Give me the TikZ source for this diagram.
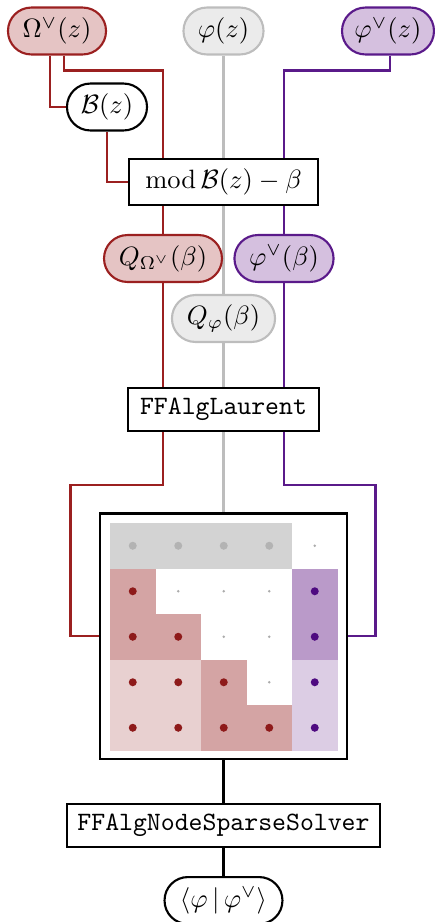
\documentclass[tikz,border=0pt]{standalone}
\usepackage{amsmath}
\usetikzlibrary{calc,backgrounds}

\definecolor{redline}{HTML}{9B2020}
\definecolor{redfill}{HTML}{E5C4C4}
\definecolor{purpleline}{HTML}{5A1A8A}
\definecolor{purplefill}{HTML}{D5C0DF}
\definecolor{grayline}{HTML}{BDBDBD}
\definecolor{grayfill}{HTML}{EBEBEB}
\definecolor{cellgray}{HTML}{D3D3D3}
\definecolor{dotgray}{HTML}{B3B3B3}
\definecolor{smalldot}{HTML}{ABABAB}
\definecolor{cellred}{HTML}{D4A4A4}
\definecolor{cellredlight}{HTML}{E8D0D0}
\definecolor{dotred}{HTML}{8E1A1A}
\definecolor{cellpurple}{HTML}{BA9AC9}
\definecolor{cellpurplelight}{HTML}{DCCDE4}
\definecolor{dotpurple}{HTML}{4E0A80}

\tikzset{
  pill/.style={draw, rounded corners=8.8pt, minimum height=17.7pt, inner sep=0pt, line width=0.8pt},
  redpill/.style={pill, draw=redline, fill=redfill},
  graypill/.style={pill, draw=grayline, fill=grayfill},
  purplepill/.style={pill, draw=purpleline, fill=purplefill},
  whitepill/.style={pill, draw=black, fill=white},
  opbox/.style={draw, fill=white, line width=0.8pt, inner sep=0pt},
  wire/.style={line width=0.85pt},
  redwire/.style={wire, draw=redline},
  purplewire/.style={wire, draw=purpleline},
  graywire/.style={wire, draw=grayline},
  blackwire/.style={wire, draw=black},
  bigdot/.style={radius=4},
  tinydot/.style={radius=1.4},
}

\begin{document}
\begin{tikzpicture}[x=0.3774pt, y=-0.3774pt]
\useasboundingbox (0,0) rectangle (434,922);

% inputs
\node[redpill, minimum width=37pt] (om) at (57,31) {$\Omega^\vee(z)$};
\node[graypill, minimum width=30.2pt] (phz) at (223.5,31) {$\varphi(z)$};
\node[purplepill, minimum width=34.7pt] (phv) at (388,31) {$\varphi^\vee(z)$};
\node[whitepill, minimum width=30.2pt] (bz) at (107,107) {$\mathcal{B}(z)$};

% reduction step
\node[opbox, minimum width=71.3pt, minimum height=17.4pt] (mod) at (223.5,182) {$\operatorname{mod}\mathcal{B}(z)-\beta$};

% reduced quantities
\node[redpill, minimum width=44.5pt] (qom) at (163,258.5) {$Q_{\Omega^\vee}(\beta)$};
\node[purplepill, minimum width=37.4pt] (pvb) at (284,258.5) {$\varphi^\vee(\beta)$};
\node[graypill, minimum width=38.9pt] (qph) at (223.5,318.5) {$Q_\varphi(\beta)$};

\node[opbox, minimum width=72pt, minimum height=16.2pt] (ffl) at (223.5,409.5) {\texttt{FFAlgLaurent}};

% linear system
\node[draw, fill=white, line width=1.1pt, minimum width=93.2pt, minimum height=92.8pt, inner sep=0pt] (mat) at (223.5,636) {};

\fill[cellgray] (110,523) rectangle (292,568.5);
\fill[cellred] (110,568.5) rectangle (155.5,614);
\fill[cellred] (110,614) rectangle (201,659.5);
\fill[cellred] (201,659.5) rectangle (246.5,705);
\fill[cellred] (201,705) rectangle (292,750.5);
\fill[cellredlight] (110,659.5) rectangle (201,750.5);
\fill[cellpurple] (292,568.5) rectangle (337.5,659.5);
\fill[cellpurplelight] (292,659.5) rectangle (337.5,750.5);

% entries: gray row
\foreach \x in {132.75,178.25,223.75,269.25}
  \fill[dotgray] (\x,545.75) circle[bigdot];
\fill[smalldot] (314.75,545.75) circle[tinydot];
% red block
\foreach \x/\y in {132.75/591.25, 132.75/636.75, 178.25/636.75,
                   132.75/682.25, 178.25/682.25, 223.75/682.25,
                   132.75/727.75, 178.25/727.75, 223.75/727.75, 269.25/727.75}
  \fill[dotred] (\x,\y) circle[bigdot];
% purple column
\foreach \y in {591.25,636.75,682.25,727.75}
  \fill[dotpurple] (314.75,\y) circle[bigdot];
% empty entries
\foreach \x/\y in {178.25/591.25, 223.75/591.25, 269.25/591.25,
                   223.75/636.75, 269.25/636.75, 269.25/682.25}
  \fill[smalldot] (\x,\y) circle[tinydot];

\node[opbox, minimum width=118pt, minimum height=16.2pt] (sol) at (223.5,825.5) {\texttt{FFAlgNodeSparseSolver}};
\node[whitepill, minimum width=44.5pt] (res) at (223.5,900.5) {$\langle\varphi\,|\,\varphi^\vee\rangle$};

\begin{scope}[on background layer]
  % gray thread
  \draw[graywire] (phz.south) -- (mat.north);
  % red threads
  \draw[redwire] ($(om.south)+(-7,0)$) |- (bz.west);
  \draw[redwire] ($(om.south)+(7,0)$) -- ++(0,15) -| (qom.north);
  \draw[redwire] (bz.south) |- (mod.west);
  \draw[redwire] (qom.south) -- (qom.south |- ffl.north);
  \draw[redwire] (qom.south |- ffl.south) |- ($(mat.west)+(-28,-151)$) |- (mat.west);
  % purple threads
  \draw[purplewire] ($(phv.south)+(2,0)$) -- ++(0,15) -| (pvb.north);
  \draw[purplewire] (pvb.south) -- (pvb.south |- ffl.north);
  \draw[purplewire] (pvb.south |- ffl.south) |- ($(mat.east)+(27,-151)$) |- (mat.east);
  % output
  \draw[blackwire] (mat.south) -- (sol.north);
  \draw[blackwire] (sol.south) -- (res.north);
\end{scope}
\end{tikzpicture}
\end{document}
